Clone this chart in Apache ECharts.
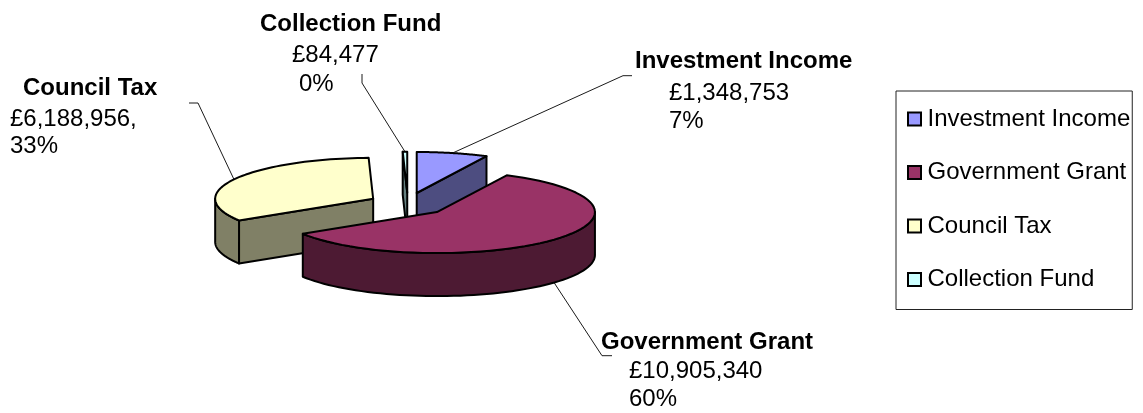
<!DOCTYPE html>
<html>
<head>
<meta charset="utf-8">
<style>html,body{margin:0;padding:0;background:#fff}#chart{width:1143px;height:413px}</style>
<script src="https://cdn.jsdelivr.net/npm/echarts@6/dist/echarts.min.js"></script>
</head>
<body>
<div id="chart"></div>
<script>
// Income sources, in the order the slices run clockwise from twelve o'clock.
const categories = ['Investment Income', 'Government Grant', 'Council Tax', 'Collection Fund'];
const amounts = [1348753, 10905340, 6188956, 84477];
const amountLabels = ['£1,348,753', '£10,905,340', '£6,188,956,', '£84,477'];
const percentLabels = ['7%', '60%', '33%', '0%'];

const topColors = ['#9999FF', '#993366', '#FFFFCC', '#CCFFFF'];
const sideColors = ['#4D4D80', '#4D1A33', '#808066', '#668080'];
const paintOrder = [2, 4, 3, 1];

// Pie geometry: ellipse radii, extrusion depth and how far slices are pulled out.
const CX = 407.8, CY = 204.3, RX = 158, RY = 41, DEPTH = 43, PULL_X = 39.3, PULL_Y = 11.6;
const FONT = '"Liberation Sans", Arial, sans-serif';

// Label text blocks: [x, y] for the name, amount and percent lines.
const labelLayout = [
  [[635, 61], [669, 93], [669, 121]],
  [[601, 342], [629, 371], [629, 399]],
  [[23, 88], [10, 119], [10, 146]],
  [[260, 24], [292, 55], [299, 84]]
];
// Leader elbows, listed from the slice outward.
const leaderElbows = [
  [[623, 75.7], [632, 75.7]],
  [[602, 355.7], [612, 355.7]],
  [[198, 103], [189, 103]],
  [[362, 83], [362, 74]]
];

const total = amounts.reduce((a, b) => a + b, 0);
const TAU = Math.PI * 2;

function renderSlice(index, api) {
  const value = api.value(0);
  let before = 0;
  for (let i = 0; i < index; i++) before += amounts[i];
  const start = before / total * TAU;
  const end = (before + value) / total * TAU;
  const mid = (start + end) / 2;

  // Each slice is pulled out along its own middle angle.
  const ox = CX + Math.sin(mid) * PULL_X;
  const oy = CY - Math.cos(mid) * PULL_Y;
  const rim = (t, drop) => [ox + Math.sin(t) * RX, oy - Math.cos(t) * RY + (drop || 0)];
  const stroke = { stroke: '#000', lineWidth: 2, lineJoin: 'round' };
  const children = [];
  const poly = (points, fill) => children.push({
    type: 'polygon', shape: { points }, style: Object.assign({ fill }, stroke)
  });

  // Radial faces show only when they turn towards the viewer.
  const side = sideColors[index];
  [[start, -1], [end, 1]].forEach(([t, dir]) => {
    if (Math.sin(t) * dir > 1e-6) {
      poly([[ox, oy], rim(t), rim(t, DEPTH), [ox, oy + DEPTH]], side);
    }
  });

  // Outer wall: the part of the rim on the front half of the ellipse.
  const wallFrom = Math.max(start, Math.PI / 2);
  const wallTo = Math.min(end, Math.PI * 1.5);
  if (wallTo > wallFrom) {
    const upper = [], lower = [];
    for (let k = 0; k <= 60; k++) {
      const t = wallFrom + (wallTo - wallFrom) * k / 60;
      upper.push(rim(t));
      lower.unshift(rim(t, DEPTH));
    }
    poly(upper.concat(lower), side);
  }

  // Top surface.
  const top = [[ox, oy]];
  for (let k = 0; k <= 60; k++) top.push(rim(start + (end - start) * k / 60));
  poly(top, topColors[index]);

  // Leader line runs from the rim at the slice's middle angle.
  const facesFront = Math.cos(mid) < 0;
  const anchor = rim(mid, facesFront ? DEPTH : 0);
  children.push({
    type: 'polyline', z2: 5,
    shape: { points: [anchor].concat(leaderElbows[index]) },
    style: { fill: null, stroke: '#000', lineWidth: 0.9 }
  });

  // Label lines.
  const lines = [categories[index], amountLabels[index], percentLabels[index]];
  lines.forEach((text, i) => children.push({
    type: 'text', z2: 6,
    style: {
      text, x: labelLayout[index][i][0], y: labelLayout[index][i][1],
      fill: '#000', verticalAlign: 'middle', align: 'left',
      font: (i === 0 ? 'bold ' : '') + '24px ' + FONT
    }
  }));
  return { type: 'group', children };
}

const series = categories.map((name, i) => ({
  type: 'custom',
  name,
  z: paintOrder[i],
  coordinateSystem: 'none',
  silent: true,
  animation: false,
  itemStyle: { color: topColors[i] },
  data: [[amounts[i]]],
  renderItem: (params, api) => renderSlice(i, api)
}));

const chart = echarts.init(document.getElementById('chart'), null, { renderer: 'canvas' });
chart.setOption({
  backgroundColor: '#fff',
  animation: false,
  legend: {
    orient: 'vertical',
    left: 896,
    top: 91,
    padding: [16, 2, 18, 11],
    itemGap: 29.5,
    itemWidth: 13,
    itemHeight: 13,
    icon: 'rect',
    borderColor: '#222',
    borderWidth: 1,
    selectedMode: false,
    itemStyle: { borderColor: '#000', borderWidth: 2 },
    textStyle: { fontFamily: FONT, fontSize: 24, color: '#000', padding: [0, 0, 0, 1.5] },
    data: categories
  },
  series
});
</script>
</body>
</html>
